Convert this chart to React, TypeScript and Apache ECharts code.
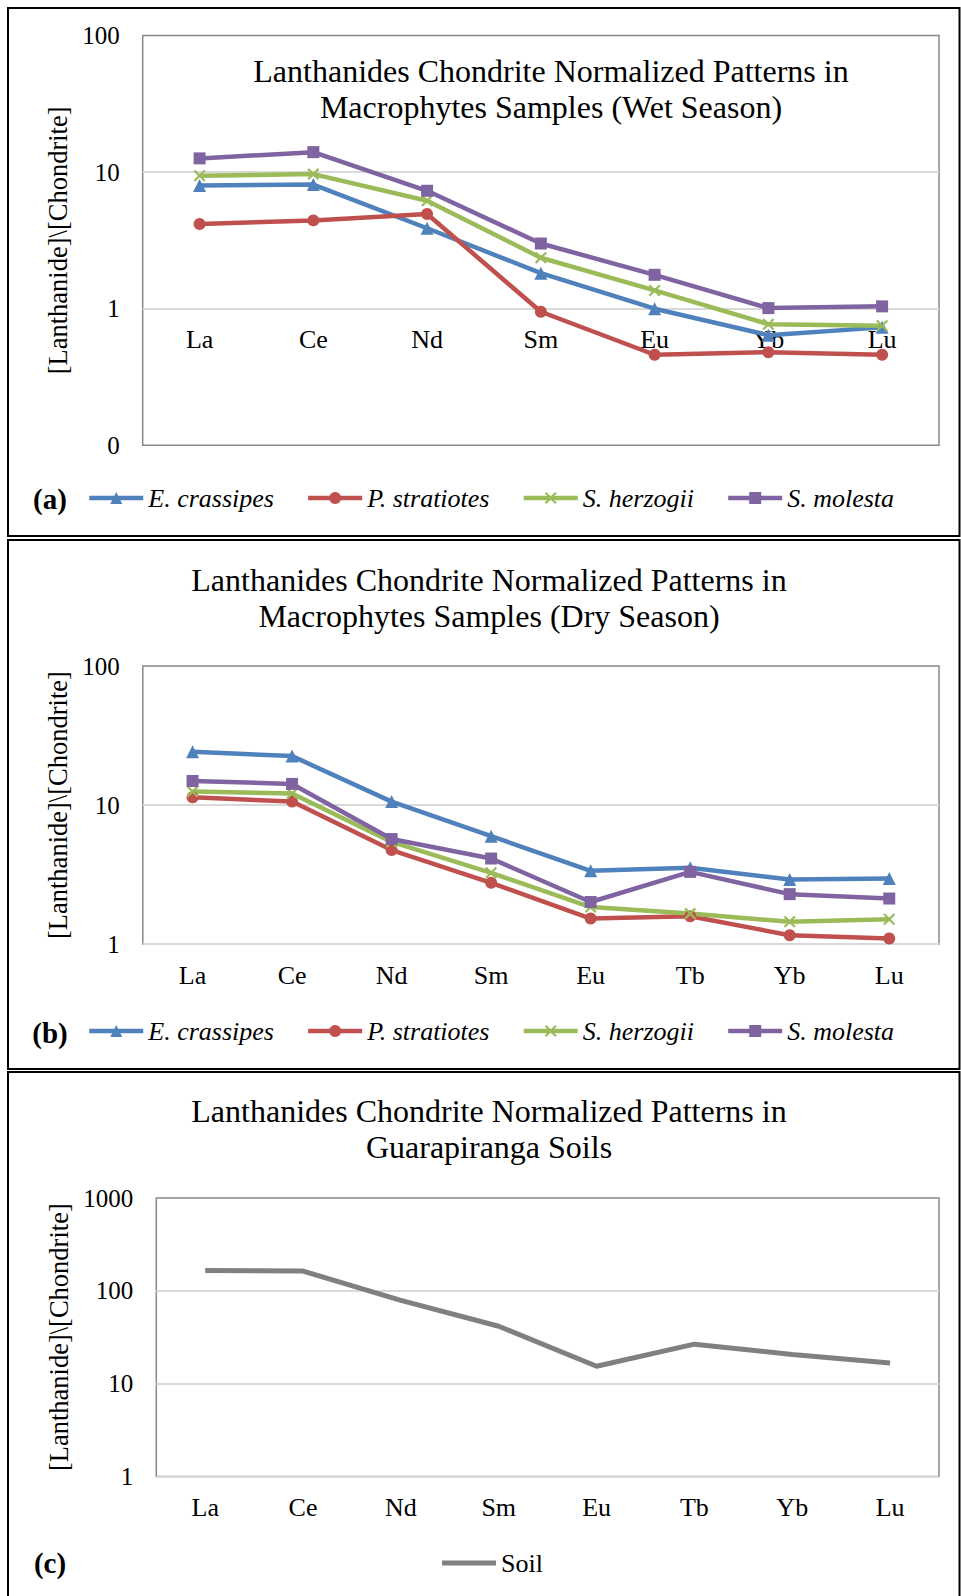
import React, { useEffect, useRef } from 'react';
import * as echarts from 'echarts';

const FONT = '"Liberation Serif", "Times New Roman", serif';

// ---------- data ----------
const speciesNames = ['E. crassipes', 'P. stratiotes', 'S. herzogii', 'S. molesta'];

const categoriesWet = ['La', 'Ce', 'Nd', 'Sm', 'Eu', 'Yb', 'Lu'];
const wetEC = [7.98, 8.1, 3.88, 1.82, 1.0, 0.64, 0.73];
const wetPS = [4.17, 4.43, 4.94, 0.95, 0.46, 0.48, 0.46];
const wetSH = [9.4, 9.67, 6.17, 2.36, 1.36, 0.77, 0.75];
const wetSM = [12.6, 14.0, 7.3, 3.0, 1.77, 1.01, 1.04];

const categoriesDry = ['La', 'Ce', 'Nd', 'Sm', 'Eu', 'Tb', 'Yb', 'Lu'];
const dryEC = [24.2, 22.5, 10.6, 5.98, 3.37, 3.54, 2.92, 2.97];
const dryPS = [11.4, 10.6, 4.75, 2.76, 1.53, 1.59, 1.16, 1.1];
const drySH = [12.5, 12.1, 5.44, 3.26, 1.85, 1.66, 1.45, 1.51];
const drySM = [14.9, 14.2, 5.7, 4.13, 2.01, 3.31, 2.29, 2.13];

const categoriesSoil = ['La', 'Ce', 'Nd', 'Sm', 'Eu', 'Tb', 'Yb', 'Lu'];
const soilValues = [165, 163, 79, 41.5, 15.4, 26.6, 20.6, 16.7];

const titleWet = 'Lanthanides Chondrite Normalized Patterns in\nMacrophytes Samples (Wet Season)';
const titleDry = 'Lanthanides Chondrite Normalized Patterns in\nMacrophytes Samples (Dry Season)';
const titleSoil = 'Lanthanides Chondrite Normalized Patterns in\nGuarapiranga Soils';
const yAxisName = '[Lanthanide]\\[Chondrite]';

// ---------- styles ----------
const COLORS = ['#4F81BD', '#C0504D', '#9BBB59', '#8064A2'];
const SOIL_COLOR = '#808080';
const X_SYMBOL =
  'path://M0,1.3 L1.3,0 L5,3.7 L8.7,0 L10,1.3 L6.3,5 L10,8.7 L8.7,10 L5,6.3 L1.3,10 L0,8.7 L3.7,5 Z';
const SYMBOLS = ['triangle', 'circle', X_SYMBOL, 'rect'];
const SYMBOL_SIZES = [13, 12, 12, 12];

function speciesSeries(idx: number, arrays: number[][]) {
  return arrays.map((data, i) => ({
    type: 'line',
    name: speciesNames[i],
    xAxisIndex: idx,
    yAxisIndex: idx,
    data,
    symbol: SYMBOLS[i],
    symbolSize: SYMBOL_SIZES[i],
    showSymbol: true,
    lineStyle: { color: COLORS[i], width: 4.5 },
    itemStyle: { color: COLORS[i], borderWidth: 0 },
    emphasis: { disabled: true },
  }));
}

function yAxisCfg(idx: number, min: number, max: number, nameGap: number, showMin: boolean) {
  return {
    type: 'log',
    logBase: 10,
    gridIndex: idx,
    min,
    max,
    axisLine: { show: false },
    axisTick: { show: false },
    splitLine: {
      show: true,
      showMinLine: showMin,
      showMaxLine: false,
      lineStyle: { color: '#D9D9D9', width: 2 },
    },
    axisLabel: {
      fontSize: 25,
      fontFamily: FONT,
      color: '#000',
      margin: 23,
      formatter: (v: number) => (v < 1 ? '0' : String(Math.round(v))),
    },
    name: yAxisName,
    nameLocation: 'middle',
    nameGap,
    nameTextStyle: { fontSize: 26.5, fontFamily: FONT, color: '#000' },
  };
}

function xAxisCfg(idx: number, data: string[], offset: number) {
  return {
    type: 'category',
    gridIndex: idx,
    data,
    boundaryGap: true,
    offset,
    axisLine: { show: false },
    axisTick: { show: false },
    splitLine: { show: false },
    axisLabel: { fontSize: 26, fontFamily: FONT, color: '#000', margin: 18 },
  };
}

const legendText = { fontSize: 26, fontFamily: FONT, fontStyle: 'italic', color: '#000' };

function speciesLegend(top: number) {
  return {
    data: speciesNames,
    left: 87,
    top,
    padding: 0,
    itemWidth: 54,
    itemHeight: 15,
    itemGap: 32,
    lineStyle: { width: 4.5 },
    textStyle: legendText,
    selectedMode: false,
  };
}

export default function App() {
  const ref = useRef<HTMLDivElement>(null);

  useEffect(() => {
    if (!ref.current) return;
    const chart = echarts.init(ref.current, undefined, { renderer: 'svg' });
    const gridStyle = { show: true, borderColor: '#898989', borderWidth: 1.5, backgroundColor: '#fff' };
    const option = {
      animation: false,
      backgroundColor: '#fff',
      textStyle: { fontFamily: FONT },
      grid: [
        { left: 142.7, top: 35.5, width: 796.3, height: 409.8, ...gridStyle },
        { left: 142.8, top: 666, width: 796.2, height: 278.2, ...gridStyle },
        { left: 156.3, top: 1198, width: 782.7, height: 278.4, ...gridStyle },
      ],
      xAxis: [
        xAxisCfg(0, categoriesWet, -136.6),
        xAxisCfg(1, categoriesDry, 0),
        xAxisCfg(2, categoriesSoil, 0),
      ],
      yAxis: [
        yAxisCfg(0, 0.1, 100, 70, false),
        yAxisCfg(1, 1, 100, 70, true),
        yAxisCfg(2, 1, 1000, 84, true),
      ],
      legend: [
        speciesLegend(485),
        speciesLegend(1018),
        {
          data: [{ name: 'Soil', icon: 'rect', itemStyle: { color: SOIL_COLOR } }],
          left: 442,
          top: 1550,
          padding: 0,
          itemWidth: 54,
          itemHeight: 5,
          textStyle: { fontSize: 26, fontFamily: FONT, color: '#000' },
          selectedMode: false,
        },
      ],
      series: [
        ...speciesSeries(0, [wetEC, wetPS, wetSH, wetSM]),
        ...speciesSeries(1, [dryEC, dryPS, drySH, drySM]),
        {
          type: 'line',
          name: 'Soil',
          xAxisIndex: 2,
          yAxisIndex: 2,
          data: soilValues,
          symbol: 'none',
          lineStyle: { color: SOIL_COLOR, width: 5 },
          itemStyle: { color: SOIL_COLOR },
          emphasis: { disabled: true },
        },
      ],
      graphic: [
        { type: 'rect', shape: { x: 8, y: 8, width: 951.5, height: 528 }, style: { fill: 'none', stroke: '#000', lineWidth: 2 } },
        { type: 'rect', shape: { x: 8, y: 540, width: 951.5, height: 529 }, style: { fill: 'none', stroke: '#000', lineWidth: 2 } },
        { type: 'rect', shape: { x: 8, y: 1072, width: 951.5, height: 540 }, style: { fill: 'none', stroke: '#000', lineWidth: 2 } },
        {
          type: 'text', x: 551, y: 53,
          style: { text: titleWet, align: 'center', verticalAlign: 'top', fontSize: 32, lineHeight: 36, fontFamily: FONT, fill: '#000' },
        },
        {
          type: 'text', x: 489, y: 562,
          style: { text: titleDry, align: 'center', verticalAlign: 'top', fontSize: 32, lineHeight: 36, fontFamily: FONT, fill: '#000' },
        },
        {
          type: 'text', x: 489, y: 1093,
          style: { text: titleSoil, align: 'center', verticalAlign: 'top', fontSize: 32, lineHeight: 36, fontFamily: FONT, fill: '#000' },
        },
        {
          type: 'text', x: 50, y: 499,
          style: { text: '(a)', align: 'center', verticalAlign: 'middle', fontSize: 29, fontWeight: 'bold', fontFamily: FONT, fill: '#000' },
        },
        {
          type: 'text', x: 50, y: 1033,
          style: { text: '(b)', align: 'center', verticalAlign: 'middle', fontSize: 29, fontWeight: 'bold', fontFamily: FONT, fill: '#000' },
        },
        {
          type: 'text', x: 50, y: 1563,
          style: { text: '(c)', align: 'center', verticalAlign: 'middle', fontSize: 29, fontWeight: 'bold', fontFamily: FONT, fill: '#000' },
        },
      ],
    };
    chart.setOption(option as any);
    return () => chart.dispose();
  }, []);

  return (
    <div
      ref={ref}
      style={{ position: 'absolute', left: 0, top: 0, width: 961, height: 1596, background: '#fff' }}
    />
  );
}
